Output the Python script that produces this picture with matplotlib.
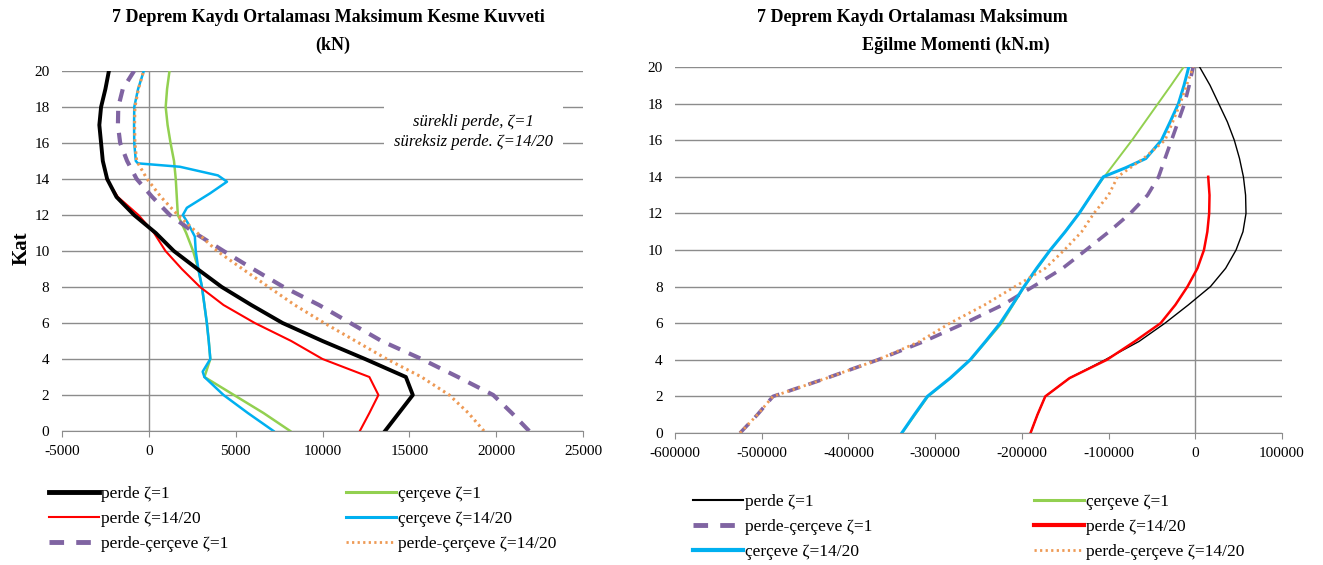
import matplotlib
matplotlib.use("Agg")
import matplotlib.pyplot as plt
from matplotlib.lines import Line2D

plt.rcParams["font.family"] = ["Liberation Serif", "DejaVu Serif"]
plt.rcParams["axes.unicode_minus"] = False

# ── Kesme kuvveti (kN) ───────────────────────────────────────────────────────
kat = list(range(21))
kat_14 = list(range(15))

v_perde_1 = [13600, 14400, 15200, 14800, 12450, 10000, 7700, 5900, 4200, 2800,
             1440, 400, -850, -1860, -2400, -2650, -2750, -2850, -2750, -2500, -2300]
v_perde_14 = [12150, 12700, 13220, 12700, 10000, 8200, 6100, 4300, 2950, 1900,
              960, 300, -600, -1780, -2440]
v_cerceve_1 = [8140, 6600, 4900, 3200, 3540, 3450, 3340, 3200, 3060, 2850,
               2550, 2150, 1670, 1610, 1550, 1450, 1250, 1080, 970, 1050, 1190]
kat_cer_14 = [0, 1, 2, 3, 3.3, 4, 5, 6, 7, 8, 9, 10, 10.8, 11.55, 12, 12.4, 13.2,
              13.85, 14.2, 14.68, 14.87, 15, 16, 17, 18, 19, 20]
v_cerceve_14 = [7180, 5700, 4300, 3200, 3100, 3540, 3450, 3340, 3200, 3060, 2850,
                2700, 2650, 2250, 1960, 2190, 3520, 4500, 3980, 1790, -630, -750,
                -840, -850, -840, -620, -290]
v_pc_1 = [21900, 20900, 19830, 17800, 15700, 13400, 11600, 9800, 7760, 6000,
          4300, 2650, 1210, 200, -700, -1250, -1650, -1780, -1760, -1500, -850]
v_pc_14 = [19300, 18400, 17300, 15700, 13700, 11900, 10100, 8400, 6900, 5400,
           3930, 2800, 1670, 700, -100, -700, -800, -820, -800, -600, -300]

# ── Eğilme momenti (kN.m) ────────────────────────────────────────────────────
m_perde_1 = [-190000, -182000, -173000, -145000, -104000, -65000, -35000, -8000,
             17500, 35000, 47000, 55000, 58500, 58000, 55500, 51000, 45000, 37000,
             27000, 17000, 5000]
m_perde_14 = [-190000, -182000, -173000, -145000, -102000, -70000, -40000, -23000,
              -9000, 2500, 10000, 13900, 16000, 16400, 14900]
m_cerceve_1 = [-338000, -323000, -308000, -282000, -259000, -241000, -223000,
               -210000, -197000, -182000, -167000, -150000, -134000, -120000,
               -105000, -89000, -73000, -58000, -43000, -28000, -13400]
kat_m_cer_14 = [0, 1, 2, 3, 4, 5, 6, 7, 8, 9, 10, 11, 12, 13, 14, 14.5, 15, 16,
                17, 18, 19, 20]
m_cerceve_14 = [-338500, -324000, -309000, -282700, -259600, -242000, -225000,
                -211000, -197500, -183000, -167300, -150000, -134000, -120000,
                -106000, -80000, -57000, -39000, -29000, -19400, -13000, -7500]
m_pc_1 = [-525000, -505000, -487000, -425000, -366000, -313000, -266000, -222000,
          -187000, -153000, -126000, -99500, -75000, -55000, -42300, -34900,
          -27400, -19900, -12400, -7000, -2500]
m_pc_14 = [-525000, -505000, -487000, -425000, -366000, -318000, -283000, -243000,
           -208000, -173000, -151000, -131000, -117000, -100000, -89600, -59800,
           -34900, -26000, -17400, -10000, -2500]

BLACK, RED, GREEN = "#000000", "#FF0000", "#92D050"
CYAN, PURPLE, ORANGE = "#00B0F0", "#8064A2", "#EE9A55"
GRID = "#8c8c8c"

fig = plt.figure(figsize=(13.23, 5.65), dpi=100)
W, H = 1323, 565

ax1 = fig.add_axes([62 / W, 1 - 431 / H, 521 / W, 360 / H])
ax2 = fig.add_axes([675 / W, 1 - 433 / H, 607 / W, 366 / H])


def _style(ax, xlim, xstep):
    ax.set_xlim(*xlim)
    ax.set_ylim(0, 20)
    ax.set_xticks(range(xlim[0], xlim[1] + 1, xstep))
    ax.set_yticks(range(0, 21, 2))
    ax.grid(True, axis="y", color=GRID, lw=1)
    ax.set_axisbelow(True)
    ax.axvline(0, color=GRID, lw=1, zorder=1)
    for side in ("top", "right", "left"):
        ax.spines[side].set_visible(False)
    ax.spines["bottom"].set_color(GRID)
    ax.tick_params(axis="x", direction="out", length=4, color=GRID,
                   labelsize=11, pad=6)
    ax.tick_params(axis="y", length=0, labelsize=11, pad=9)


# ── Sol panel: kesme kuvveti ─────────────────────────────────────────────────
ax1.plot(v_cerceve_1, kat, color=GREEN, lw=1.8)
ax1.plot(v_cerceve_14, kat_cer_14, color=CYAN, lw=1.8)
ax1.plot(v_perde_14, kat_14, color=RED, lw=1.5)
ax1.plot(v_perde_1, kat, color=BLACK, lw=2.8)
ax1.plot(v_pc_1, kat, color=PURPLE, lw=3, dashes=(3, 2.3))
ax1.plot(v_pc_14, kat, color=ORANGE, lw=2.2, dashes=(0.8, 1.2))
_style(ax1, (-5000, 25000), 5000)

ax1.text(18700, 16.6, "sürekli perde, ζ=1\nsüreksiz perde. ζ=14/20",
         ha="center", va="center", style="italic", fontsize=12,
         linespacing=1.3, zorder=5,
         bbox=dict(fc="white", ec="none", boxstyle="square,pad=0.62"))

fig.text(22 / W, 1 - 248 / H, "Kat", rotation=90, ha="center", va="center",
         fontsize=15, fontweight="bold")
fig.text(328 / W, 1 - 18 / H, "7 Deprem Kaydı Ortalaması Maksimum Kesme Kuvveti",
         ha="center", va="center", fontsize=13, fontweight="bold")
fig.text(333 / W, 1 - 45 / H, "(kN)", ha="center", va="center",
         fontsize=13, fontweight="bold")

# ── Sağ panel: eğilme momenti ────────────────────────────────────────────────
ax2.plot(m_perde_1, kat, color=BLACK, lw=1.0)
ax2.plot(m_cerceve_1, kat, color=GREEN, lw=1.4)
ax2.plot(m_pc_1, kat, color=PURPLE, lw=2.6, dashes=(3.5, 2.5))
ax2.plot(m_perde_14, kat_14, color=RED, lw=1.8)
ax2.plot(m_cerceve_14, kat_m_cer_14, color=CYAN, lw=2.2)
ax2.plot(m_pc_14, kat, color=ORANGE, lw=2.0, dashes=(0.8, 1.3))
_style(ax2, (-600000, 100000), 100000)

fig.text(912 / W, 1 - 18 / H, "7 Deprem Kaydı Ortalaması Maksimum",
         ha="center", va="center", fontsize=13, fontweight="bold")
fig.text(1050 / W, 1 - 45 / H, "Eğilme Momenti (kN.m)",
         ha="right", va="center", fontsize=13, fontweight="bold")

# ── Lejantlar ────────────────────────────────────────────────────────────────
def _h(color, lw, dashes=None):
    kw = dict(color=color, lw=lw)
    if dashes:
        kw["dashes"] = dashes
    return Line2D([], [], **kw)


LEG_KW = dict(loc="center left", frameon=False, fontsize=12.5, borderpad=0,
              borderaxespad=0, handlelength=2.9, handletextpad=0.1,
              labelspacing=0.5)

fig.legend([_h(BLACK, 3.5), _h(RED, 1.5), _h(PURPLE, 3.5, (3, 2.5))],
           ["perde ζ=1", "perde ζ=14/20", "perde-çerçeve ζ=1"],
           bbox_to_anchor=(49 / W, 1 - 519 / H), **LEG_KW)
fig.legend([_h(GREEN, 2.2), _h(CYAN, 2.2), _h(ORANGE, 2.0, (0.8, 1.2))],
           ["çerçeve ζ=1", "çerçeve ζ=14/20", "perde-çerçeve ζ=14/20"],
           bbox_to_anchor=(346 / W, 1 - 519 / H), **LEG_KW)
fig.legend([_h(BLACK, 1.5), _h(PURPLE, 3.5, (3, 2.5)), _h(CYAN, 3)],
           ["perde ζ=1", "perde-çerçeve ζ=1", "çerçeve ζ=14/20"],
           bbox_to_anchor=(693 / W, 1 - 527 / H), **LEG_KW)
fig.legend([_h(GREEN, 2.2), _h(RED, 3), _h(ORANGE, 2.0, (0.8, 1.2))],
           ["çerçeve ζ=1", "perde ζ=14/20", "perde-çerçeve ζ=14/20"],
           bbox_to_anchor=(1034 / W, 1 - 527 / H), **LEG_KW)

fig.savefig("out.png", dpi=100, facecolor="white")
